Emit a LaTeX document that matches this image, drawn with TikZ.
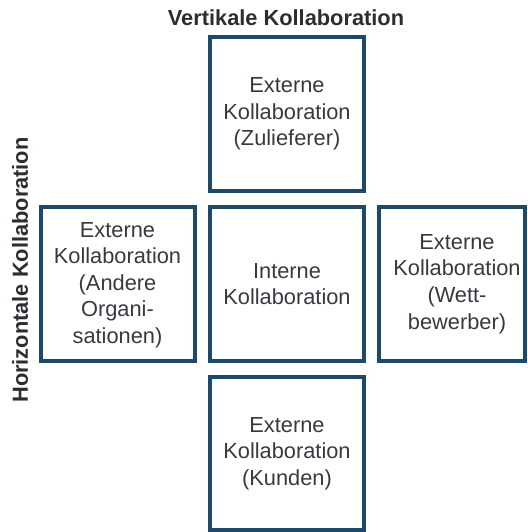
\documentclass[tikz,border=0pt]{standalone}
\usepackage{fontspec}
\setmainfont{Liberation Sans}
\definecolor{boxblue}{HTML}{1D4A6A}
\definecolor{txtgray}{HTML}{353A40}
\definecolor{headgray}{HTML}{2A2D31}
\begin{document}
\begin{tikzpicture}[x=1pt,y=-1pt,
  cell/.style={draw=boxblue, line width=4pt, rectangle, inner sep=0pt,
    minimum width=154pt, minimum height=154pt},
  celltext/.style={text=txtgray, align=center, inner sep=0pt,
    font=\fontsize{21.8}{26.6}\selectfont},
  heading/.style={text=headgray, inner sep=0pt,
    font=\fontsize{21.8}{26.6}\selectfont\bfseries}]
\useasboundingbox (0,0) rectangle (527,532);
\clip (0,0) rectangle (527,532);

% headings
\node[heading] (vert) at (286,17.5) {Vertikale Kollaboration};
\node[heading, rotate=90] (horiz) at (20,270) {Horizontale Kollaboration};

% cells of the cross
\node[cell] (top) at (287,114) {};
\node[celltext] (toptext) at (287,114) {Externe\\Kollaboration\\(Zulieferer)};

\node[cell] (mid) at (287,284) {};
\node[celltext] (midtext) at (287,284) {Interne\\Kollaboration};

\node[cell] (left) at (117.5,284) {};
\node[celltext] (lefttext) at (117.5,285) {Externe\\Kollaboration\\(Andere\\Organi-\\sationen)};

\node[cell, minimum width=146pt] (right) at (452,284) {};
\node[celltext] (righttext) at (457,284) {Externe\\Kollaboration\\(Wett-\\bewerber)};

\node[cell, minimum height=153pt] (bottom) at (287,453.5) {};
\node[celltext] (bottomtext) at (287,453.5) {Externe\\Kollaboration\\(Kunden)};
\end{tikzpicture}
\end{document}
